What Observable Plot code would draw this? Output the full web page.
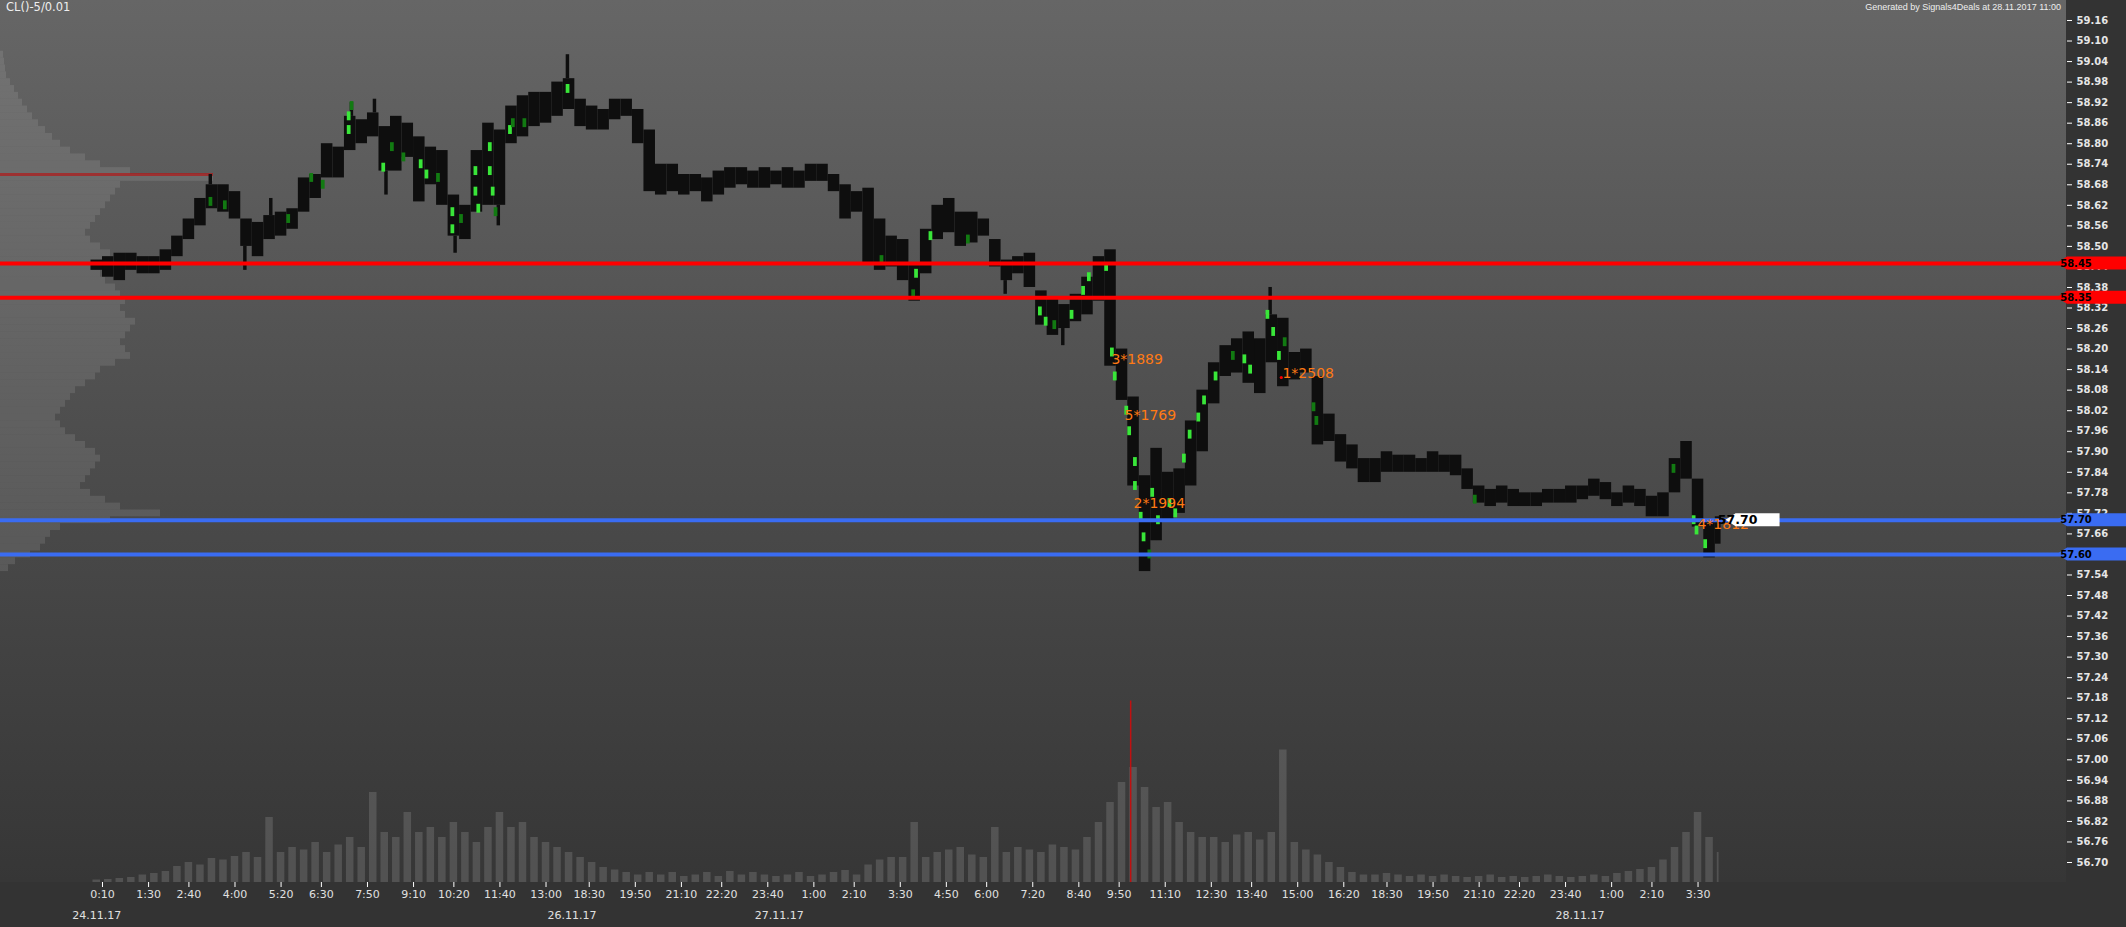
<!DOCTYPE html>
<html><head><meta charset="utf-8">
<script src="https://cdn.jsdelivr.net/npm/d3@7"></script>
<script src="https://cdn.jsdelivr.net/npm/@observablehq/plot@0.6"></script>
<style>
html,body{margin:0;padding:0;background:#333;}
#wrap{position:relative;width:2126px;height:927px;overflow:hidden;background:#333;font-family:"DejaVu Sans",sans-serif;}
#bg{position:absolute;left:0;top:0;width:2066px;height:882px;background:linear-gradient(#666666 0%,#4d4d4d 50%,#363636 100%);}
.layer{position:absolute;left:0;top:0;}
#title{position:absolute;left:6px;top:0px;color:#eee;font-size:11.5px;font-family:"DejaVu Sans",sans-serif;}
#gen{position:absolute;left:1861px;width:200px;top:2px;color:#eee;font-size:9px;text-align:right;font-family:"Liberation Sans",sans-serif;white-space:nowrap;}
</style></head><body>
<div id="wrap"><div id="bg"></div></div>
<script>
// ---------- data ----------
const colIdx = d3.range(-4, 561, 4); // 5-min bar index of each 20-min column
const barHigh = [
 58.46,58.47,58.48,58.48,58.47,58.47,58.49,58.53,58.58,58.64,
 58.68,58.68,58.66,58.58,58.57,58.59,58.60,58.61,58.70,58.71,
 58.80,58.79,58.88,58.87,58.89,58.85,58.88,58.86,58.82,58.79,
 58.78,58.65,58.62,58.78,58.86,58.84,58.91,58.94,58.95,58.95,
 58.98,58.99,58.93,58.91,58.90,58.93,58.93,58.90,58.84,58.74,
 58.74,58.71,58.71,58.70,58.72,58.73,58.73,58.72,58.73,58.72,
 58.73,58.72,58.74,58.74,58.71,58.68,58.66,58.67,58.58,58.53,
 58.52,58.45,58.55,58.62,58.64,58.60,58.60,58.58,58.52,58.46,
 58.47,58.48,58.37,58.35,58.33,58.36,58.41,58.47,58.49,58.20,
 58.06,57.83,57.91,57.84,57.85,57.99,58.08,58.16,58.21,58.23,
 58.25,58.23,58.30,58.29,58.19,58.20,58.12,58.01,57.95,57.92,
 57.88,57.88,57.90,57.89,57.89,57.88,57.90,57.89,57.89,57.85,
 57.80,57.79,57.80,57.79,57.78,57.78,57.79,57.79,57.80,57.80,
 57.82,57.81,57.78,57.80,57.79,57.77,57.78,57.88,57.93,57.82,
 57.70,57.71];
const barLow = [
 58.43,58.41,58.40,58.43,58.42,58.42,58.43,58.47,58.52,58.56,
 58.61,58.60,58.58,58.50,58.47,58.52,58.53,58.55,58.60,58.64,
 58.70,58.70,58.78,58.80,58.82,58.72,58.72,58.76,58.63,58.68,
 58.62,58.53,58.52,58.60,58.62,58.62,58.80,58.82,58.85,58.86,
 58.88,58.90,58.85,58.84,58.84,58.87,58.88,58.80,58.66,58.65,
 58.66,58.65,58.66,58.63,58.65,58.67,58.68,58.67,58.67,58.68,
 58.67,58.67,58.69,58.69,58.66,58.58,58.60,58.45,58.43,58.44,
 58.40,58.34,58.42,58.52,58.54,58.50,58.51,58.53,58.44,58.40,
 58.42,58.38,58.27,58.24,58.26,58.28,58.30,58.34,58.15,58.05,
 57.80,57.55,57.64,57.70,57.72,57.80,57.90,58.04,58.12,58.13,
 58.10,58.07,58.16,58.09,58.11,58.13,57.92,57.93,57.87,57.85,
 57.81,57.81,57.84,57.84,57.84,57.84,57.84,57.84,57.83,57.79,
 57.75,57.74,57.75,57.74,57.74,57.74,57.75,57.75,57.75,57.76,
 57.77,57.76,57.74,57.75,57.74,57.71,57.71,57.78,57.82,57.68,
 57.59,57.63];
// single-bar spikes (wicks) beyond the column bodies
const wickIdx  = [37, 49, 58, 86, 94, 98, 122, 137, 161, 313, 333, 405];
const wickHigh = [58.71, 58.50, 58.64, 58.92, 58.93, 58.72, 58.53, 58.62, 59.06, 58.40, 58.26, 58.38];
const wickLow  = [58.68, 58.43, 58.59, 58.88, 58.89, 58.65, 58.48, 58.56, 58.99, 58.36, 58.21, 58.30];
// volume per column (contracts)
const colVolume = [
 50,60,80,100,150,180,220,
 320,400,350,480,450,520,
 600,500,1300,600,700,
 650,800,600,750,900,700,1800,
 1000,900,1400,1000,1100,900,1200,1000,800,
 1100,1400,1100,1200,900,800,700,
 600,500,400,300,250,200,
 150,200,150,200,120,150,200,120,220,150,200,150,120,150,200,120,150,200,240,150,
 350,450,500,500,1200,500,600,650,700,550,500,
 1100,600,700,650,600,750,700,650,900,1200,
 1600,2000,2300,1900,1500,1600,1200,1000,900,
 900,800,950,1000,850,1000,2650,800,650,550,
 400,300,200,150,150,180,150,120,150,120,150,120,100,120,150,100,120,100,120,150,120,100,120,150,120,180,220,260,
 300,450,700,1000,1400,900,600];
const spikeIdx = 357, spikeVolume = 3630;
// volume profile (price level -> volume)
const profPrice = [59.06,59.04,59.02,59.00,58.98,58.96,58.94,58.92,58.90,58.88,58.86,58.84,58.82,58.80,58.78,58.76,58.74,58.72,58.70,58.68,58.66,58.64,58.62,58.60,58.58,58.56,58.54,58.52,58.50,58.48,58.46,58.44,58.42,58.40,58.38,58.36,58.34,58.32,58.30,58.28,58.26,58.24,58.22,58.20,58.18,58.16,58.14,58.12,58.10,58.08,58.06,58.04,58.02,58.00,57.98,57.96,57.94,57.92,57.90,57.88,57.86,57.84,57.82,57.80,57.78,57.76,57.74,57.72,57.70,57.68,57.66,57.64,57.62,57.60,57.58,57.56];
const profVolume = [30,40,50,60,100,140,180,220,270,320,380,450,520,600,700,850,1000,1300,2130,1200,1150,1100,1050,1000,950,900,850,900,1000,1100,1200,1100,1000,1050,1150,1200,1250,1200,1250,1350,1300,1250,1200,1250,1300,1150,1000,950,850,750,700,650,600,550,600,650,750,850,950,1000,950,900,850,800,900,1050,1200,1600,1100,600,500,450,400,300,150,80];
const pocPrice = 58.71, pocVolume = 2130;
// green (aggressive volume) cells
const greenIdx =   [37,42,64,72,76,85,85,86,97,100,104,110,112,116,121,121,124,129,129,130,134,134,135,136,141,142,146,161,270,281,282,287,300,325,327,330,336,340,342,348,350,351,355,356,358,358,360,361,363,364,366,370,372,375,377,380,382,386,392,396,398,404,406,408,410,420,421,476,545,552,553,556];
const greenPrice = [58.63,58.62,58.58,58.70,58.68,58.88,58.84,58.91,58.73,58.79,58.76,58.74,58.71,58.70,58.60,58.55,58.58,58.72,58.66,58.61,58.79,58.72,58.66,58.60,58.84,58.86,58.86,58.96,58.46,58.36,58.42,58.53,58.52,58.31,58.28,58.27,58.30,58.37,58.41,58.44,58.19,58.12,58.02,57.96,57.87,57.80,57.71,57.65,57.60,57.78,57.70,57.75,57.72,57.88,57.95,58.00,58.05,58.12,58.18,58.17,58.14,58.30,58.25,58.18,58.22,58.03,57.99,57.76,57.85,57.70,57.67,57.63];
const greenBright = [0,0,0,0,0,1,1,0,1,0,0,1,1,0,1,1,0,1,1,1,1,1,1,0,1,0,0,1,0,0,1,1,0,1,1,0,1,1,1,1,1,1,1,1,1,1,1,1,0,1,1,1,1,1,1,1,1,1,0,1,1,1,1,1,0,0,0,0,0,1,1,1];
// level lines
const levelPrice = [58.45, 58.35, 57.70, 57.60];
const levelColor = ["#ff0000", "#ff0000", "#3a6cf2", "#3a6cf2"];
const lastPrice = 57.70, lastIdx = 562;
// annotations
const annoIdx = [350.3, 354.9, 358.0, 409.7, 553.8];
const annoPrice = [58.17, 58.006, 57.749, 58.129, 57.687];
const annoText = ["3*1889", "5*1769", "2*1994", "1*2508", "4*1812"];
// axes
const yTicks = [56.70,56.76,56.82,56.88,56.94,57.00,57.06,57.12,57.18,57.24,57.30,57.36,57.42,57.48,57.54,57.60,57.66,57.72,57.78,57.84,57.90,57.96,58.02,58.08,58.14,58.20,58.26,58.32,58.38,58.44,58.50,58.56,58.62,58.68,58.74,58.80,58.86,58.92,58.98,59.04,59.10,59.16];
const timeTickIdx = [0,16,30,46,62,76,92,108,122,138,154,169,185,201,215,231,247,261,277,293,307,323,339,353,369,385,399,415,431,446,462,478,492,508,524,538,554];
const timeTickLabel = ["0:10","1:30","2:40","4:00","5:20","6:30","7:50","9:10","10:20","11:40","13:00","18:30","19:50","21:10","22:20","23:40","1:00","2:10","3:30","4:50","6:00","7:20","8:40","9:50","11:10","12:30","13:40","15:00","16:20","18:30","19:50","21:10","22:20","23:40","1:00","2:10","3:30"];
const dateIdx = [-2, 163, 235, 513];
const dateLabel = ["24.11.17", "26.11.17", "27.11.17", "28.11.17"];

// ---------- build ----------
const W = 2126, H = 927;
const M = {marginLeft: 0, marginRight: 60, marginTop: 0, marginBottom: 45};
const xDomain = [-35.42, 681.94];
const yDomain = [56.6416, 59.2184];
const bars = colIdx.map((i, k) => ({i, hi: barHigh[k], lo: barLow[k], v: colVolume[k], end: k === colIdx.length - 1 ? lastIdx : i + 4}));
const wicks = wickIdx.map((i, k) => ({i, hi: wickHigh[k], lo: wickLow[k]}));
const greens = greenIdx.map((i, k) => ({i, p: greenPrice[k], b: greenBright[k]}));
const profile = profPrice.map((p, k) => ({p, v: profVolume[k]}));
const annos = annoIdx.map((i, k) => ({i, p: annoPrice[k], t: annoText[k]}));
const tickMap = new Map(timeTickIdx.map((d, k) => [d, timeTickLabel[k]]));
const dateMap = new Map(dateIdx.map((d, k) => [d, dateLabel[k]]));
const font = "DejaVu Sans, sans-serif";

const profPlot = Plot.plot({
  width: W, height: H, ...M,
  style: {background: "none", fontFamily: font},
  x: {domain: [0, 20660], axis: null},
  y: {domain: yDomain, axis: null},
  marks: [
    Plot.rectX(profile, {y1: d => d.p - 0.01, y2: d => d.p + 0.01, x: "v", fill: "#d0d0d0", fillOpacity: 0.14}),
    Plot.ruleY([pocPrice], {x1: 0, x2: pocVolume, stroke: "#b01818", strokeWidth: 3, strokeOpacity: 0.7})
  ]
});

const volPlot = Plot.plot({
  width: W, height: H, ...M,
  style: {background: "none", fontFamily: font},
  x: {domain: xDomain, axis: null},
  y: {domain: [0, 17640], axis: null},
  marks: [
    Plot.rectY(bars, {x1: "i", x2: "end", y: "v", fill: "#9a9a9a", fillOpacity: 0.28, insetLeft: 2, insetRight: 2}),
    Plot.ruleX([spikeIdx], {y1: 0, y2: spikeVolume, stroke: "#c01010", strokeWidth: 1.5})
  ]
});

function levelTags(index, scales, values, dims) {
  const g = d3.create("svg:g");
  const x0 = dims.width - dims.marginRight;
  levelPrice.forEach((p, k) => {
    const y = scales.y(p);
    g.append("path")
      .attr("d", `M${x0 - 9},${y} L${x0 + 1},${y - 6.5} H${dims.width} V${y + 6.5} H${x0 + 1} Z`)
      .attr("fill", levelColor[k]);
    g.append("text").attr("x", x0 + 10).attr("y", y).attr("dy", "0.36em")
      .attr("font-weight", "bold").attr("font-size", 10).attr("font-family", font)
      .attr("fill", "#000").text(p.toFixed(2));
  });
  return g.node();
}
function lastTag(index, scales, values, dims) {
  const g = d3.create("svg:g");
  const x = scales.x(lastIdx) + 5, y = scales.y(lastPrice);
  g.append("path")
    .attr("d", `M${x},${y} L${x + 10},${y - 6.5} H${x + 54} V${y + 6.5} H${x + 10} Z`)
    .attr("fill", "#fff");
  g.append("text").attr("x", x + 12).attr("y", y).attr("dy", "0.37em")
    .attr("font-weight", "bold").attr("font-size", 12.5).attr("font-family", font)
    .attr("fill", "#000").text(lastPrice.toFixed(2));
  return g.node();
}

const main = Plot.plot({
  width: W, height: H, ...M,
  style: {background: "none", fontFamily: font},
  x: {domain: xDomain, axis: null},
  y: {domain: yDomain, axis: null},
  marks: [
    Plot.rect(bars, {x1: "i", x2: "end", y1: "lo", y2: "hi", fill: "#0e0e0e"}),
    Plot.rect(wicks, {x1: "i", x2: d => d.i + 1.2, y1: "lo", y2: "hi", fill: "#0e0e0e"}),
    Plot.rect(greens, {x1: d => d.i, x2: d => d.i + 1.3, y1: d => d.p - 0.013, y2: d => d.p + 0.013, fill: d => d.b ? "#39e639" : "#127a12"}),
    Plot.ruleY(levelPrice, {stroke: (d, k) => levelColor[k], strokeWidth: 4}),
    Plot.text(annos, {x: "i", y: "p", text: "t", fill: "#ff7a14", fontSize: 14, textAnchor: "start", fontFamily: font}),
    Plot.dot([{i: 409.3, p: 58.117}], {x: "i", y: "p", r: 1.6, fill: "#ff0000"}),
    Plot.axisX({ticks: timeTickIdx, tickFormat: d => tickMap.get(d), tickSize: 5, tickPadding: 3, fontSize: 11, color: "#e0e0e0", stroke: "#ffffff", line: true}),
    Plot.axisX({ticks: dateIdx, tickFormat: d => dateMap.get(d), tickSize: 0, tickPadding: 29, fontSize: 11, color: "#e0e0e0"}),
    Plot.axisY({anchor: "right", ticks: yTicks, tickFormat: d => levelPrice.some(p => Math.abs(p - d) < 1e-6) ? "" : d.toFixed(2), tickSize: 5, tickPadding: 5, fontSize: 10, fontWeight: "bold", color: "#e6e6e6", stroke: "#ffffff", line: true}),
    levelTags,
    lastTag
  ]
});

const wrap = document.getElementById("wrap");
for (const p of [profPlot, volPlot, main]) { p.classList.add("layer"); p.style.position = "absolute"; p.style.left = "0"; p.style.top = "0"; wrap.appendChild(p); }
const t = document.createElement("div"); t.id = "title"; t.textContent = "CL()-5/0.01"; wrap.appendChild(t);
const g = document.createElement("div"); g.id = "gen"; g.textContent = "Generated by Signals4Deals at 28.11.2017 11:00"; wrap.appendChild(g);
</script>
</body></html>
